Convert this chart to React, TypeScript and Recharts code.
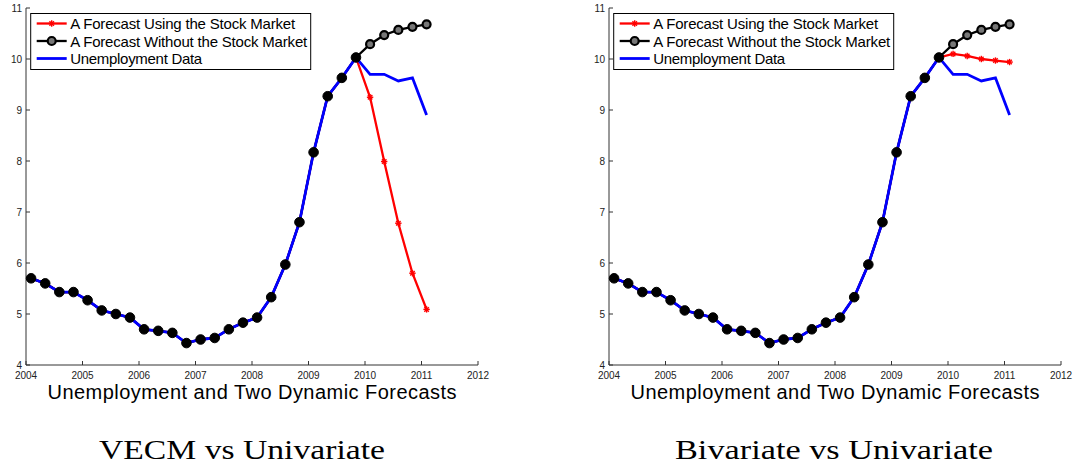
import { LineChart, Line, XAxis, YAxis } from 'recharts'

// quarterly observation dates (decimal years)
const dates = [
	2004.09, 2004.34, 2004.59, 2004.84, 2005.09, 2005.34, 2005.59, 2005.84,
	2006.09, 2006.34, 2006.59, 2006.84, 2007.09, 2007.34, 2007.59, 2007.84,
	2008.09, 2008.34, 2008.59, 2008.84, 2009.09, 2009.34, 2009.59, 2009.84,
	2010.09, 2010.34, 2010.59, 2010.84, 2011.09,
]

// unemployment rate up to the forecast origin
const history = [
	5.7, 5.6, 5.43, 5.43, 5.27, 5.07, 5.0, 4.93, 4.7, 4.67, 4.63, 4.43,
	4.5, 4.53, 4.7, 4.83, 4.93, 5.33, 5.97, 6.8, 8.17, 9.27, 9.63, 10.03,
]

// realised unemployment after the origin
const actualAfter = [9.7, 9.7, 9.57, 9.63, 8.9]
// univariate forecast, same in both panels
const univariate = [10.29, 10.47, 10.57, 10.63, 10.68]
// forecasts that use the stock market
const vecm = [9.25, 7.99, 6.78, 5.8, 5.09]
const bivariate = [10.1, 10.06, 10.0, 9.97, 9.94]

const xTicks = [2004, 2005, 2006, 2007, 2008, 2009, 2010, 2011, 2012]
const yTicks = [4, 5, 6, 7, 8, 9, 10, 11]

const legendLabels = [
	'A Forecast Using the Stock Market',
	'A Forecast Without the Stock Market',
	'Unemployment Data',
]

const RED = '#ff0000'
const BLUE = '#0000ff'
const AXIS = '#333'
const FONT = '"Liberation Sans", Arial, Helvetica, sans-serif'

const CHART_W = 540
const CHART_H = 400
const PLOT_LEFT = 26
const PLOT_BOTTOM = 365

const buildRows = (forecast: number[]) =>
	dates.map((x, i) => {
		const j = i - history.length
		return {
			x,
			red: j < 0 ? history[i] : forecast[j],
			black: j < 0 ? history[i] : univariate[j],
			blue: j < 0 ? history[i] : actualAfter[j],
		}
	})

const Star = ({ cx, cy, size = 3.2 }: { cx: number; cy: number; size?: number }) => (
	<g stroke={RED} strokeWidth={1.4}>
		<line x1={cx - size} x2={cx + size} y1={cy} y2={cy} />
		<line x1={cx} x2={cx} y1={cy - size} y2={cy + size} />
		<line x1={cx - size * 0.7} x2={cx + size * 0.7} y1={cy - size * 0.7} y2={cy + size * 0.7} />
		<line x1={cx - size * 0.7} x2={cx + size * 0.7} y1={cy + size * 0.7} y2={cy - size * 0.7} />
	</g>
)

const redDot = (props: any) => (
	<g key={`r-${props.index}`}>
		<Star cx={props.cx} cy={props.cy} />
	</g>
)

const blackDot = (props: any) => {
	const open = props.index >= history.length
	return (
		<circle
			key={`b-${props.index}`}
			cx={props.cx}
			cy={props.cy}
			r={open ? 4 : 4.8}
			fill={open ? '#777' : '#000'}
			stroke='#000'
			strokeWidth={open ? 2.2 : 1}
		/>
	)
}

const XTick = ({ x, payload }: any) => (
	<g>
		<line x1={x} x2={x} y1={PLOT_BOTTOM} y2={PLOT_BOTTOM - 4} stroke={AXIS} />
		<text x={x} y={PLOT_BOTTOM + 14} textAnchor='middle' fontSize={10} fontFamily={FONT} fill='#222'>
			{payload.value}
		</text>
	</g>
)

const YTick = ({ y, payload }: any) => (
	<g>
		<line x1={PLOT_LEFT} x2={PLOT_LEFT + 4} y1={y} y2={y} stroke={AXIS} />
		<text x={PLOT_LEFT - 4} y={y + 3.5} textAnchor='end' fontSize={10} fontFamily={FONT} fill='#222'>
			{payload.value}
		</text>
	</g>
)

const Panel = ({ forecast, left }: { forecast: number[]; left: number }) => (
	<div style={{ position: 'absolute', left, top: 0 }}>
		<LineChart
			width={CHART_W}
			height={CHART_H}
			data={buildRows(forecast)}
			margin={{ top: 8, right: 62, bottom: 15, left: 0 }}
			accessibilityLayer={false}
		>
			<XAxis
				type='number'
				dataKey='x'
				domain={[2004, 2012]}
				ticks={xTicks}
				height={20}
				tickLine={false}
				axisLine={{ stroke: AXIS }}
				tick={XTick}
				interval={0}
			/>
			<YAxis
				type='number'
				domain={[4, 11]}
				ticks={yTicks}
				width={26}
				tickLine={false}
				axisLine={{ stroke: AXIS }}
				tick={YTick}
				interval={0}
			/>
			<Line dataKey='red' type='linear' stroke={RED} strokeWidth={2.3} dot={redDot} activeDot={false} isAnimationActive={false} />
			<Line dataKey='black' type='linear' stroke='#000' strokeWidth={2.3} dot={blackDot} activeDot={false} isAnimationActive={false} />
			<Line dataKey='blue' type='linear' stroke={BLUE} strokeWidth={2.8} dot={false} activeDot={false} isAnimationActive={false} />
		</LineChart>
	</div>
)

// legend box, axis title and caption for one panel (page coordinates)
const Annotations = ({ plotLeft, caption, captionWidth, captionX }: { plotLeft: number; caption: string; captionWidth: number; captionX: number }) => {
	const bx = plotLeft + 4.7
	const rows = [23.5, 41, 58.5]
	return (
		<g>
			<rect x={bx} y={13.5} width={280} height={56} fill='#fff' stroke='#000' strokeWidth={1} />
			<line x1={bx + 6} x2={bx + 36} y1={rows[0]} y2={rows[0]} stroke={RED} strokeWidth={2.3} />
			<Star cx={bx + 21} cy={rows[0]} />
			<line x1={bx + 6} x2={bx + 36} y1={rows[1]} y2={rows[1]} stroke='#000' strokeWidth={2.3} />
			<circle cx={bx + 21} cy={rows[1]} r={4} fill='#777' stroke='#000' strokeWidth={2.2} />
			<line x1={bx + 6} x2={bx + 36} y1={rows[2]} y2={rows[2]} stroke={BLUE} strokeWidth={2.8} />
			{legendLabels.map((label, i) => (
				<text key={label} x={bx + 39.5} y={rows[i] + 5.8} fontSize={15} fontFamily={FONT} fill='#000'
					textLength={[225, 237, 132][i]}>
					{label}
				</text>
			))}
			<text x={plotLeft + 226} y={399} textAnchor='middle' fontSize={20} fontFamily={FONT} fill='#000' textLength={409}>
				Unemployment and Two Dynamic Forecasts
			</text>
			<text x={captionX} y={459} textAnchor='middle' fontSize={27} fontFamily='"Liberation Serif", "DejaVu Serif", serif'
				fill='#000' textLength={captionWidth} lengthAdjust='spacingAndGlyphs'>
				{caption}
			</text>
		</g>
	)
}

export default function App() {
	return (
		<div style={{ position: 'absolute', left: 0, top: 0, width: 1083, height: 467, background: '#fff', overflow: 'hidden' }}>
			<Panel forecast={vecm} left={0} />
			<Panel forecast={bivariate} left={583} />
			<svg width={1083} height={467} style={{ position: 'absolute', left: 0, top: 0, pointerEvents: 'none' }}>
				<Annotations plotLeft={26} caption='VECM vs Univariate' captionWidth={286} captionX={242} />
				<Annotations plotLeft={609} caption='Bivariate vs Univariate' captionWidth={318} captionX={834} />
			</svg>
		</div>
	)
}
